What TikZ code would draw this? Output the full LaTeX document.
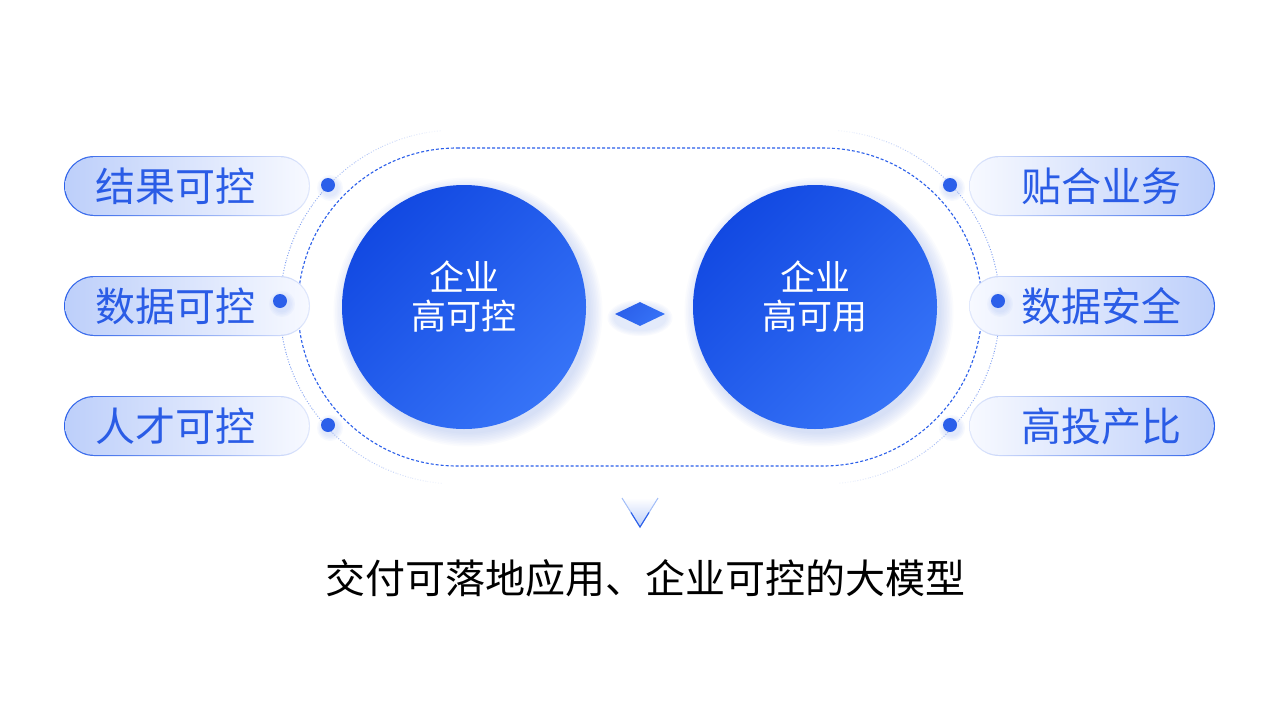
\documentclass[tikz,border=0pt]{standalone}
\usepackage{fontspec}
\setmainfont{Noto Sans CJK SC}
\usetikzlibrary{positioning,shapes.geometric}
\definecolor{deepblue}{HTML}{1249E2}
\definecolor{midblue}{HTML}{2B5FEA}
\definecolor{liteblue}{HTML}{3673F7}
\definecolor{textblue}{HTML}{2A5CE6}
\definecolor{rimblue}{HTML}{2D62EA}
\definecolor{rimpale}{HTML}{E1E8FC}
\definecolor{pillblue}{HTML}{BDCFFA}
\definecolor{pillpale}{HTML}{F7F9FF}
\definecolor{glowblue}{HTML}{9DB6F4}
\definecolor{ringblue}{HTML}{6F93F0}
\tikzset{
    pillrim/.style={rounded corners=30pt, minimum width=246pt, minimum height=60pt, inner sep=0pt},
    pillbody/.style={rounded corners=28.8pt, minimum width=243.6pt, minimum height=57.6pt, inner sep=0pt},
    pilltext/.style={text=textblue, font=\fontsize{40}{46}\selectfont, inner sep=0pt},
    bigdisc/.style={circle, minimum size=244pt, inner sep=0pt, top color=deepblue, bottom color=liteblue,
        shading angle=45},
    disctext/.style={text=white, font=\fontsize{35}{39}\selectfont, align=center},
    dotmark/.style={circle, fill=midblue, minimum size=14pt, inner sep=0pt},
    ringline/.style={ringblue, line width=0.9pt, dash pattern=on 0.9pt off 1.8pt},
}
\begin{document}
\begin{tikzpicture}[x=1pt, y=-1pt]
\useasboundingbox[fill=white] (0,0) rectangle (1280,720);

% dashed stadium round both discs
\draw[midblue, line width=1.1pt, dash pattern=on 3pt off 2pt]
    (457,148) -- (823,148) arc[start angle=-90, end angle=90, radius=159]
    -- (457,466) arc[start angle=90, end angle=270, radius=159] -- cycle;

% dotted outer arcs, fading at the ends
\foreach \a in {95,100,...,260} {
    \pgfmathsetmacro\op{max(0,1-((\a+2.5-180)/88)^2)}
    \draw[ringline, opacity=\op] (457,307) ++(\a:177) arc[start angle=\a, end angle=\a+5, radius=177];
    \draw[ringline, opacity=\op] (823,307) ++(\a+180:177) arc[start angle=\a+180, end angle=\a+185, radius=177];
}

% glow under the discs
\foreach \r in {1,...,9} {
    \fill[glowblue, opacity=0.05] (468,312) circle[radius=120+\r*1.6];
    \fill[glowblue, opacity=0.05] (819,312) circle[radius=120+\r*1.6];
}
\node[bigdisc] (ctrl) at (464,307) {};
\node[bigdisc] (use) at (815,307) {};
\node[disctext] (ctrltxt) at (464,297) {企业\\高可控};
\node[disctext] (usetxt) at (815,297) {企业\\高可用};

% diamond between the discs
\foreach \r in {1,...,5}
    \fill[glowblue, opacity=0.06] (640,318) ellipse[x radius=25+\r*1.5, y radius=12+\r*1.2];
\node[diamond, minimum width=50pt, minimum height=24pt, inner sep=0pt,
    top color=midblue, bottom color=liteblue, shading angle=45] (mid) at (640,314) {};

% left pills
\foreach \t/\y [count=\i] in {结果可控/186, 数据可控/306, 人才可控/426} {
    \node[pillrim, left color=rimblue, right color=rimpale] (lrim\i) at (187,\y) {};
    \node[pillbody, left color=pillblue, right color=pillpale] (lpill\i) at (lrim\i) {};
    \node[pilltext, anchor=west] (ltxt\i) at (95,\y) {\t};
}

% right pills
\foreach \t/\y [count=\i] in {贴合业务/186, 数据安全/306, 高投产比/426} {
    \node[pillrim, left color=rimpale, right color=rimblue] (rrim\i) at (1092,\y) {};
    \node[pillbody, left color=pillpale, right color=pillblue] (rpill\i) at (rrim\i) {};
    \node[pilltext, anchor=east] (rtxt\i) at (1182,\y) {\t};
}

% dots on the dotted arcs
\foreach \x/\y [count=\i] in {328/185, 280/301, 328/425, 950/185, 998/301, 950/425} {
    \foreach \r in {1,...,4}
        \fill[glowblue, opacity=0.08] (\x+2,\y+3) circle[radius=7+\r*1.5];
    \node[dotmark] (dot\i) at (\x,\y) {};
}

% pointer triangle
\fill[top color=white, bottom color=pillblue] (622,498) -- (658,498) -- (640,527) -- cycle;
\draw[liteblue!45, line width=1pt] (622,498) -- (640,527) -- (658,498);
\draw[midblue, line width=1.1pt] (631,512.5) -- (640,527) -- (649,512.5);

% caption
\node[font=\fontsize{40}{46}\selectfont, text=black] (caption) at (645,578) {交付可落地应用、企业可控的大模型};
\end{tikzpicture}
\end{document}
